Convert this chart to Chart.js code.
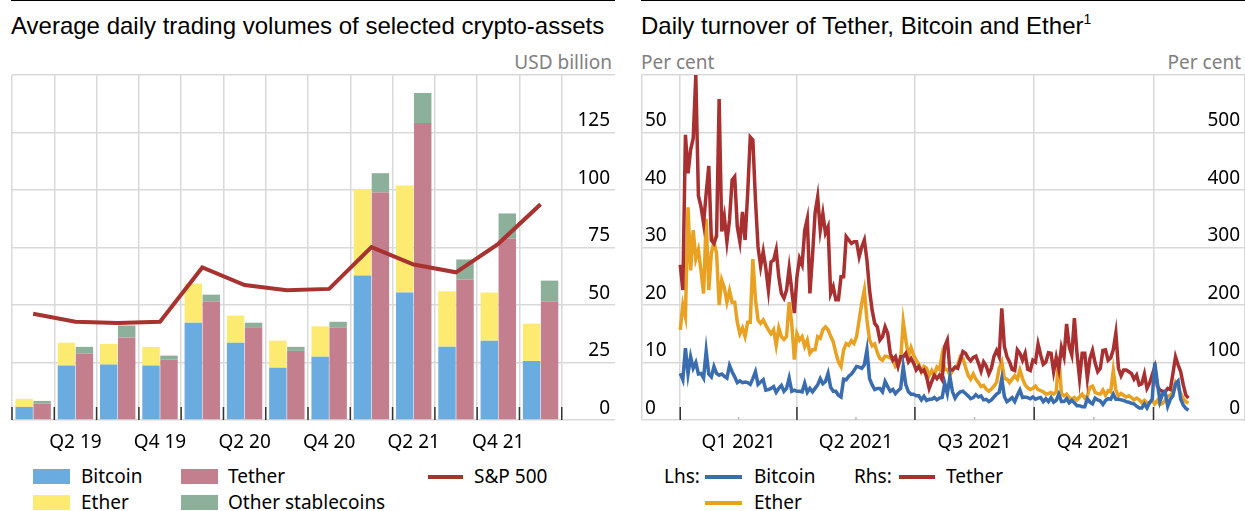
<!DOCTYPE html>
<html lang="en">
<head>
<meta charset="UTF-8" />
<title>Crypto-asset trading volumes and turnover</title>
<script src="https://cdn.jsdelivr.net/npm/chart.js@4"></script>
<style>
  body { margin: 0; width: 1245px; height: 511px; position: relative; background: #fff; overflow: hidden;
         font-family: "Noto Sans", sans-serif; }
  .rule { position: absolute; top: 0; height: 1px; background: #000; }
  .title { position: absolute; top: 14px; font: 24px "Liberation Sans", Arial, sans-serif; line-height: 24px; white-space: nowrap; }
  .title sup { font-size: 14px; line-height: 0; vertical-align: 10px; }
  .unit { position: absolute; top: 53px; font-size: 19px; line-height: 19px; color: #808080; white-space: nowrap; }
  .box { position: absolute; top: 0; }
  .lg { position: absolute; font-size: 19px; line-height: 19px; white-space: nowrap; }
  .sw { position: absolute; width: 37px; height: 15px; }
  .ln { position: absolute; width: 37px; height: 4px; }
</style>
</head>
<body>
  <div class="rule" style="left:11px;width:604px"></div>
  <div class="rule" style="left:641px;width:604px"></div>

  <div class="title" style="left:11px">Average daily trading volumes of selected crypto-assets</div>
  <div class="title" style="left:641px">Daily turnover of Tether, Bitcoin and Ether<sup>1</sup></div>

  <div class="unit" style="right:633px">USD billion</div>
  <div class="unit" style="left:641px">Per cent</div>
  <div class="unit" style="right:4px">Per cent</div>

  <div class="box" style="left:0;width:620px;height:460px"><canvas id="volumes" width="620" height="460"></canvas></div>
  <div class="box" style="left:630px;width:615px;height:460px"><canvas id="turnover" width="615" height="460"></canvas></div>

  <!-- left legend -->
  <div class="sw" style="left:33px;top:469px;background:#6aace0"></div><div class="lg" style="left:81px;top:467px">Bitcoin</div>
  <div class="sw" style="left:33px;top:495px;background:#fdea70"></div><div class="lg" style="left:81px;top:493px">Ether</div>
  <div class="sw" style="left:181px;top:469px;background:#c47f8e"></div><div class="lg" style="left:228px;top:467px">Tether</div>
  <div class="sw" style="left:181px;top:495px;background:#8db09b"></div><div class="lg" style="left:228px;top:493px">Other stablecoins</div>
  <div class="ln" style="left:428px;top:475px;width:35px;background:#a83230"></div><div class="lg" style="left:474px;top:467px">S&amp;P 500</div>

  <!-- right legend -->
  <div class="lg" style="left:664px;top:467px">Lhs:</div>
  <div class="ln" style="left:705px;top:475px;background:#3a6db0"></div><div class="lg" style="left:754px;top:467px">Bitcoin</div>
  <div class="ln" style="left:705px;top:501px;background:#e9a122"></div><div class="lg" style="left:754px;top:493px">Ether</div>
  <div class="lg" style="left:854px;top:467px">Rhs:</div>
  <div class="ln" style="left:899px;top:475px;width:36px;background:#a83030"></div><div class="lg" style="left:946px;top:467px">Tether</div>

<script>
  // Left panel: quarterly averages, USD billion
  const quarters = ['Q1 19', 'Q2 19', 'Q3 19', 'Q4 19', 'Q1 20', 'Q2 20', 'Q3 20', 'Q4 20',
                    'Q1 21', 'Q2 21', 'Q3 21', 'Q4 21', 'Q1 22'];
  const bitcoinVol = [5.7, 23.7, 24.1, 23.7, 42.3, 33.6, 22.7, 27.5, 62.8, 55.4, 31.8, 34.5, 25.7];
  const etherVol   = [3.5, 9.9, 9.0, 8.1, 17.0, 11.8, 11.8, 13.2, 37.5, 46.6, 24.2, 20.9, 16.2];
  const tetherVol  = [7.1, 28.9, 35.9, 26.3, 51.5, 40.3, 30.1, 40.1, 98.9, 129.1, 61.1, 78.9, 51.5];
  const otherVol   = [1.2, 2.9, 5.2, 1.7, 3.0, 2.0, 1.7, 2.6, 8.4, 13.1, 8.7, 10.9, 9.1];
  const sp500Vol   = [46.2, 42.7, 42.2, 42.7, 66.3, 58.7, 56.4, 57.0, 75.2, 67.6, 64.2, 76.6, 93.8];

  // Right panel: daily turnover, per cent, read every other day from 1 Jan 2021
  const stepDays = 2;
  const quarterStarts = [0, 90, 181, 273, 365];   // days after 1 Jan 2021
  const quarterNames = ['Q1 2021', 'Q2 2021', 'Q3 2021', 'Q4 2021'];
  const bitcoinTurnover = [
    8.1, 7, 12.5, 8, 11, 9, 10, 8, 8.1, 7.3,
    12, 8, 7.5, 9.3, 8.1, 7.8, 8, 7.6, 7.3, 9.5,
    8.4, 7.5, 6.5, 6.8, 6.5, 6.6, 6.5, 6.2, 7.2, 8.4,
    6.2, 6.6, 7, 5.2, 5.3, 5.5, 5.8, 4.8, 5.5, 6,
    5, 5.5, 7.3, 5, 5.2, 5, 5,
    4.9, 6.4, 4.8, 5.5, 4.9, 5.5, 6.1, 7.2, 6.3, 6.7,
    8.1, 5.7, 5, 5, 4.3, 4, 7.1, 7, 7.6, 8,
    8.6, 9.3, 9.2, 9, 9.6, 12.2, 7.2, 6.1, 5.3, 5.5,
    5.5, 4.9, 6.7, 5.8, 5, 5.3, 4.6, 5.1, 5.5, 9.3,
    6.1, 4.9, 4.5, 4.5, 4.2, 4.2, 3.5, 4.1, 3.4, 3.6,
    3.6, 3.9, 3.5, 3.8, 3.9, 6.4, 4.6,
    7.5, 4.9, 3.8, 4.5, 4.9, 5, 4.6, 4.2, 3.7, 3.9,
    4.4, 4, 4.2, 3.5, 3.6, 3.2, 3.5, 4, 4.5, 4.8,
    7.2, 4.1, 3.2, 3.5, 3.9, 3.2, 4.3, 5.2, 3.9, 4,
    3.9, 3.7, 4, 3.6, 3.8, 3.9, 3.2, 3.7, 3.2, 3.9,
    3.1, 3.4, 4.5, 3.2, 3.2, 3.7, 3, 3.4, 3, 2.5,
    2.5, 2.3, 2.3, 3.7, 3.1, 2.8, 3.8, 3.5,
    3.3, 2.7, 3.4, 3.7, 3.6, 4.5, 3.6, 3.6, 3.5, 3.4,
    3.2, 3.1, 2.9, 2.8, 2.4, 2.1, 2.1, 2.8, 2.1, 3,
    3.6, 10, 6.5, 3.2, 4.5, 4.9, 2.4, 3.6, 4.2, 6.3,
    6.8, 3.6, 2.6, 2, 1.7
  ];
  const etherTurnover = [
    15.7, 20, 18, 37, 26, 33, 28, 29.6, 26, 22,
    35, 22.6, 29, 31, 29, 20, 24.3, 23, 20.5, 22.5,
    20.5, 20.5, 17, 15, 16, 14.5, 17, 17, 28, 21,
    17.4, 16.8, 17.4, 16.5, 15.7, 15, 15.7, 13, 16, 14.5,
    14, 14.5, 20.5, 16.8, 10.5, 15, 13.9,
    14.5, 12.8, 13.9, 11.6, 12.2, 12.2, 14.5, 14.2, 15.7, 16.2,
    15.7, 14.6, 13.6, 11.7, 10.1, 9.3, 12.2, 13.3, 13, 13.8,
    13.3, 14.5, 17.4, 20.3, 22.6, 17.4, 13.9, 12.9, 13.2, 11.7,
    10.7, 10.4, 11.1, 11, 10.8, 10.4, 9.3, 9.7, 10.4, 17.1,
    13.9, 11, 12.6, 11.3, 10.4, 9.7, 8.4, 9.3, 9, 7.7,
    8.6, 7.8, 9.2, 8.8, 11.3, 8.8, 8.8,
    7.8, 8.6, 9.2, 9.6, 11, 10.7, 9.2, 7.8, 7.1, 8,
    7.1, 6.5, 5.8, 6, 5.4, 5, 5.4, 5.9, 6.5, 9,
    10.1, 7.2, 7.1, 6.5, 7.1, 7.7, 7.1, 8.7, 7.2, 6.1,
    5.6, 5.3, 5.5, 5.9, 5.3, 5.1, 4.9, 4.5, 4.6, 4.8,
    4.5, 4.9, 11, 4.6, 4.2, 4.5, 3.9, 3.6, 3.9, 3.5,
    4, 4.5, 3.8, 4.2, 5.7, 5.9, 4.8, 4.6,
    4.5, 5.2, 4.3, 5.1, 4.9, 8.6, 5.2, 4.2, 4.6, 4.3,
    4, 4.2, 3.9, 3.5, 3.8, 3.5, 3, 3.4, 3, 3,
    3.4, 2.8, 3.4, 2.7, 2.9, 3.4, 4.1, 4.3, 4.8, 6.5,
    5.7, 4.6, 3.7, 3.2, 2.9
  ];
  const tetherTurnover = [
    270, 226, 496, 429, 470, 490, 600, 390, 371, 342,
    394, 442, 313, 307, 320, 558, 328, 354, 310, 348,
    417, 423, 336, 310, 362, 313, 394, 492, 487, 383,
    301, 267, 293, 264, 226, 275, 278, 296, 249, 220,
    212, 226, 264, 226, 186, 249, 281,
    270, 330, 350, 220, 285, 360, 388, 330, 359, 325,
    336, 220, 232, 209, 209, 249, 249, 319, 313, 307,
    310, 310, 284, 301, 313, 278, 226, 191, 168, 162,
    139, 145, 162, 151, 116, 104, 110, 93, 110, 110,
    116, 101, 107, 99, 87, 93, 84, 87, 75, 55,
    67, 78, 72, 78, 70, 128, 139,
    87, 87, 92, 90, 104, 119, 116, 108, 103, 109,
    111, 99, 85, 101, 94, 80, 90, 111, 121, 110,
    194, 128, 110, 101, 88, 86, 122, 116, 104, 116,
    88, 86, 104, 101, 132, 113, 97, 101, 117, 116,
    84, 109, 88, 126, 110, 167, 128, 113, 177, 116,
    72, 116, 116, 72, 107, 121, 99, 84,
    90, 121, 122, 104, 108, 122, 151, 90, 77, 87,
    87, 84, 81, 71, 78, 61, 63, 80, 55, 64,
    78, 92, 59, 52, 50, 49, 55, 53, 81, 110,
    96, 84, 61, 43, 38
  ];

  Chart.defaults.font.family = '"Noto Sans", sans-serif';
  Chart.defaults.font.size = 19;
  Chart.defaults.color = '#000';
  Chart.defaults.animation = false;

  const gridColor = '#d9d9d9';
  const clear = 'rgba(0,0,0,0)';

  // short upright ticks on the bottom axis
  const bottomTicks = {
    id: 'bottomTicks',
    beforeDatasetsDraw(chart, args, opts) {
      const {ctx, chartArea} = chart;
      const xs = chart.scales.x;
      ctx.save();
      ctx.lineWidth = 1.5;
      ctx.strokeStyle = '#333';
      opts.major.forEach(v => {
        const px = xs.getPixelForValue(v);
        ctx.beginPath();
        ctx.moveTo(px, chartArea.bottom - 13);
        ctx.lineTo(px, chartArea.bottom);
        ctx.stroke();
      });
      ctx.strokeStyle = '#bbb';
      (opts.minor || []).forEach(v => {
        const px = xs.getPixelForValue(v);
        ctx.beginPath();
        ctx.moveTo(px, chartArea.bottom - 3);
        ctx.lineTo(px, chartArea.bottom);
        ctx.stroke();
      });
      ctx.restore();
    }
  };

  // ---------- left chart ----------
  const atQuarter = arr => arr.map((v, i) => ({x: i + 0.5, y: v}));
  const quarterEdges = quarters.map((q, i) => i).concat([quarters.length]);
  const labelPos = quarters.map((q, i) => i).filter(i => i % 2 === 1);

  new Chart(document.getElementById('volumes'), {
    type: 'bar',
    plugins: [bottomTicks],
    data: {
      datasets: [
        { type: 'line', label: 'S&P 500', data: atQuarter(sp500Vol), xAxisID: 'x', stack: 'sp',
          borderColor: '#a83230', borderWidth: 4, pointRadius: 0, tension: 0, order: -1 },
        { label: 'Bitcoin', data: atQuarter(bitcoinVol), stack: 'a', xAxisID: 'x', backgroundColor: '#6aace0' },
        { label: 'Ether', data: atQuarter(etherVol), stack: 'a', xAxisID: 'x', backgroundColor: '#fdea70' },
        { label: 'Tether', data: atQuarter(tetherVol), stack: 'b', xAxisID: 'x', backgroundColor: '#c47f8e' },
        { label: 'Other stablecoins', data: atQuarter(otherVol), stack: 'b', xAxisID: 'x', backgroundColor: '#8db09b' }
      ]
    },
    options: {
      responsive: false,
      categoryPercentage: 0.85,
      barPercentage: 0.97,
      layout: { padding: { top: 75, left: 12, right: 5, bottom: 0 } },
      plugins: {
        legend: { display: false },
        tooltip: { enabled: false },
        bottomTicks: { major: quarterEdges }
      },
      scales: {
        x: {
          type: 'linear', min: 0, max: 14.26, stacked: true, offset: false,
          afterBuildTicks: a => { a.ticks = quarterEdges.map(v => ({value: v})); },
          afterFit: a => { a.height = 0; },
          ticks: { display: false },
          grid: { color: gridColor, lineWidth: 1.5, drawTicks: false, offset: false },
          border: { display: false }
        },
        x2: {
          type: 'linear', position: 'bottom', min: 0, max: 14.26, offset: false,
          afterBuildTicks: a => { a.ticks = labelPos.map(i => ({value: i + 0.5})); },
          afterFit: a => { a.height = 40; },
          ticks: { padding: 11, autoSkip: false, maxRotation: 0,
                   callback: v => quarters[Math.floor(v)] },
          grid: { display: false, drawTicks: false, offset: false },
          border: { display: false }
        },
        y: {
          position: 'right', min: 0, max: 150, stacked: true,
          afterFit: a => { a.width = 0; },
          ticks: { stepSize: 25, mirror: true, padding: -5, labelOffset: -11.5,
                   callback: v => (v === 150 ? '' : v) },
          grid: { color: gridColor, lineWidth: 1.5, drawTicks: false },
          border: { display: false }
        }
      }
    }
  });

  // ---------- right chart ----------
  const daily = arr => arr.map((v, i) => ({x: i * stepDays, y: v}));
  const quarterMids = quarterNames.map((q, i) => (quarterStarts[i] + quarterStarts[i + 1]) / 2);
  const rightTicks = quarterStarts.concat(quarterMids).sort((a, b) => a - b);

  new Chart(document.getElementById('turnover'), {
    type: 'line',
    plugins: [bottomTicks],
    data: {
      datasets: [
        { label: 'Bitcoin', data: daily(bitcoinTurnover), yAxisID: 'y', borderColor: '#3a6db0', order: 0 },
        { label: 'Tether', data: daily(tetherTurnover), yAxisID: 'y1', borderColor: '#a83030', order: 1 },
        { label: 'Ether', data: daily(etherTurnover), yAxisID: 'y', borderColor: '#e9a122', order: 2 }
      ]
    },
    options: {
      responsive: false,
      elements: { line: { borderWidth: 3.5, tension: 0 }, point: { radius: 0 } },
      layout: { padding: { top: 75, left: 12, right: 0, bottom: 0 } },
      plugins: {
        legend: { display: false },
        tooltip: { enabled: false },
        bottomTicks: { major: quarterStarts, minor: quarterMids }
      },
      scales: {
        x: {
          type: 'linear', min: -29.5, max: 435.6,
          afterBuildTicks: a => { a.ticks = rightTicks.map(v => ({value: v})); },
          afterFit: a => { a.height = 40; },
          ticks: { padding: 11, autoSkip: false, maxRotation: 0,
                   callback: v => { const i = quarterMids.indexOf(v); return i < 0 ? '' : quarterNames[i]; } },
          grid: { color: c => (quarterStarts.includes(c.tick.value) ? gridColor : clear),
                  lineWidth: 1.5, drawTicks: false },
          border: { display: false }
        },
        y: {
          position: 'left', min: 0, max: 60,
          afterFit: a => { a.width = 0; },
          ticks: { stepSize: 10, mirror: true, padding: 3, labelOffset: -11.5,
                   callback: v => (v === 60 ? '' : v) },
          grid: { color: gridColor, lineWidth: 1.5, drawTicks: false },
          border: { display: true, color: gridColor, width: 1.5 }
        },
        y1: {
          position: 'right', min: 0, max: 600,
          afterFit: a => { a.width = 0; },
          ticks: { stepSize: 100, mirror: true, padding: -5, labelOffset: -11.5,
                   callback: v => (v === 600 ? '' : v) },
          grid: { display: false, drawTicks: false },
          border: { display: true, color: gridColor, width: 1.5 }
        }
      }
    }
  });
</script>
</body>
</html>
